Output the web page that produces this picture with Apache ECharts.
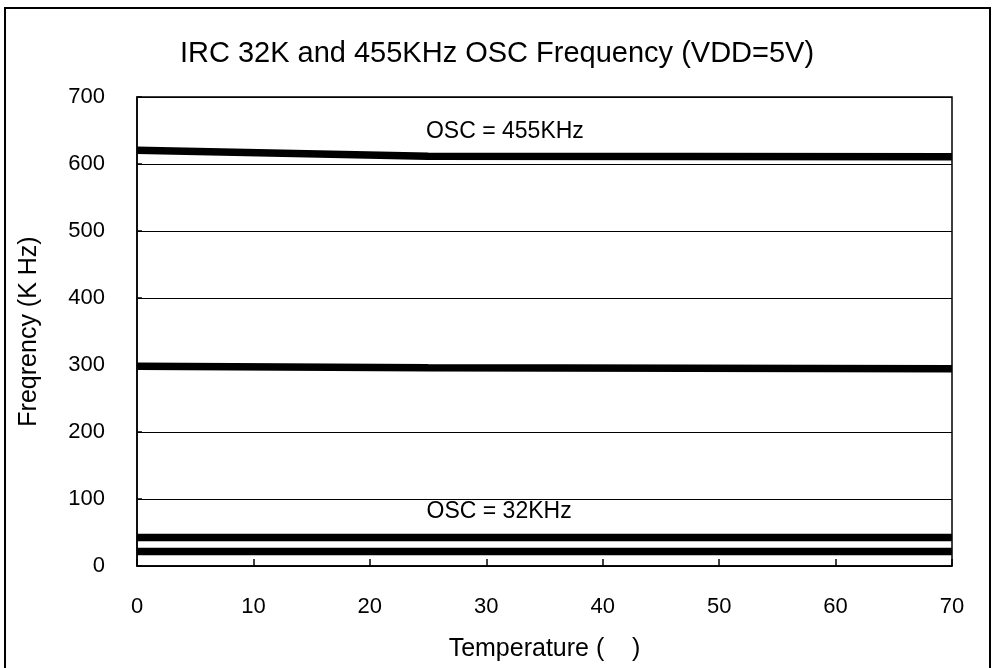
<!DOCTYPE html>
<html>
<head>
<meta charset="utf-8">
<script src="https://cdn.jsdelivr.net/npm/echarts@6/dist/echarts.min.js"></script>
<style>
  html, body { margin: 0; padding: 0; background: #fff; }
  #main { width: 994px; height: 668px; }
</style>
</head>
<body>
<div id="main"></div>
<script>
// temperatures (deg C) where the curves were sampled
const temps = [0, 25, 70];
// frequency readings, K Hz
const osc455Main = [620.5, 611.5, 611];
const osc455Half = [298, 296, 294.5];
const osc32High = [42.5, 42.5, 42.5];
const osc32Low = [21.5, 21.5, 21.5];
const xTicks = [0, 10, 20, 30, 40, 50, 60, 70];
const yTicks = [0, 100, 200, 300, 400, 500, 600, 700];
// in-plot notes: [temperature, frequency, text]
const notes = [
  [31.6, 648, "OSC = 455KHz"],
  [31.1, 81, "OSC = 32KHz"],
];

const font = "Liberation Sans, Arial, sans-serif";

const chart = echarts.init(document.getElementById("main"));

const lineSeries = (name, values) => ({
  name,
  type: "line",
  data: temps.map((t, i) => [t, values[i]]),
  symbol: "none",
  lineStyle: { color: "#000", width: 7.5 },
  z: 3,
});

const options = {
  animation: false,
  backgroundColor: "#fff",
  title: {
    text: "IRC 32K and 455KHz OSC Frequency (VDD=5V)",
    left: "center",
    top: 34,
    textStyle: {
      fontFamily: font,
      fontSize: 29,
      fontWeight: "normal",
      color: "#000",
    },
  },
  grid: {
    left: 137,
    right: 42,
    top: 97,
    bottom: 102,
    show: true,
    borderColor: "#000",
    borderWidth: 1.5,
  },
  xAxis: {
    type: "value",
    min: xTicks[0],
    max: xTicks[xTicks.length - 1],
    interval: 10,
    name: "Temperature (    )",
    nameLocation: "middle",
    nameGap: 71,
    nameTextStyle: { fontFamily: font, fontSize: 25, color: "#000" },
    axisLine: { lineStyle: { color: "#000", width: 1.5 } },
    axisTick: { inside: true, length: 7, lineStyle: { color: "#000", width: 1.5 } },
    axisLabel: { fontFamily: font, fontSize: 22, color: "#000", margin: 30 },
    splitLine: { show: false },
  },
  yAxis: {
    type: "value",
    min: yTicks[0],
    max: yTicks[yTicks.length - 1],
    interval: 100,
    name: "Freqrency (K Hz)",
    nameLocation: "middle",
    nameGap: 95,
    nameTextStyle: { fontFamily: font, fontSize: 25, color: "#000" },
    axisLine: { lineStyle: { color: "#000", width: 1.5 } },
    axisTick: { inside: true, length: 5, lineStyle: { color: "#000", width: 1.5 } },
    axisLabel: { fontFamily: font, fontSize: 22, color: "#000", margin: 32 },
    splitLine: { lineStyle: { color: "#000", width: 1.2 } },
  },
  series: [
    lineSeries("455KHz", osc455Main),
    lineSeries("455KHz half", osc455Half),
    lineSeries("32KHz high", osc32High),
    lineSeries("32KHz low", osc32Low),
    {
      name: "notes",
      type: "scatter",
      data: notes,
      symbol: "circle",
      symbolSize: 1,
      itemStyle: { color: "rgba(0,0,0,0)", opacity: 1 },
      label: {
        show: true,
        position: "inside",
        formatter: (p) => p.value[2],
        fontFamily: font,
        fontSize: 23,
        color: "#000",
        opacity: 1,
      },
      z: 4,
    },
  ],
  graphic: [
    {
      type: "rect",
      shape: { x: 5, y: 8, width: 985, height: 680 },
      style: { fill: null, stroke: "#000", lineWidth: 2 },
      silent: true,
    },
  ],
};

chart.setOption(options);
</script>
</body>
</html>
